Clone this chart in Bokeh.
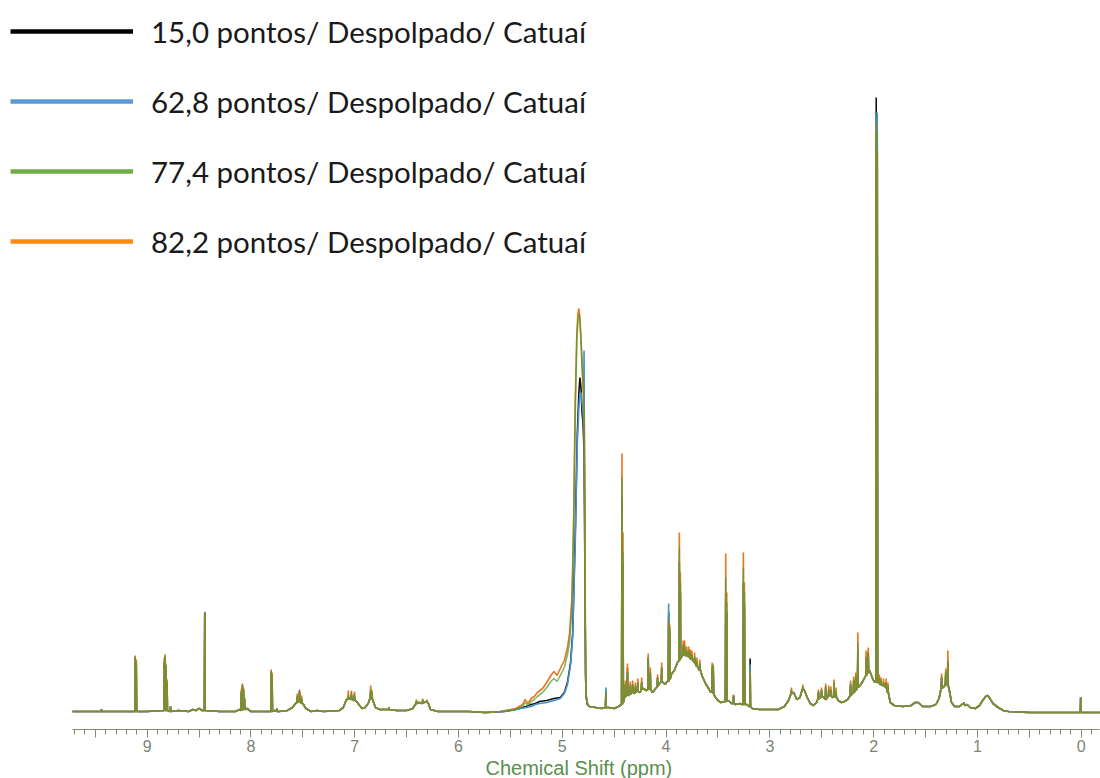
import numpy as np
from bokeh.plotting import figure
from bokeh.models import Range1d, Legend, LegendItem, FixedTicker, CustomJSTickFormatter, Title
from bokeh.embed import file_html
from bokeh.resources import INLINE

# ---------------- data ----------------
series_keys = ["black", "blue", "green", "orange"]
series_labels = [
    "15,0 pontos/ Despolpado/ Catuaí",
    "62,8 pontos/ Despolpado/ Catuaí",
    "77,4 pontos/ Despolpado/ Catuaí",
    "82,2 pontos/ Despolpado/ Catuaí",
]

# shared broad profile (chemical shift in ppm, relative intensity)
base_ppm = [9.72, 9.30, 9.20, 9.00, 8.70, 8.60, 8.56, 8.53, 8.50, 8.47, 8.30, 8.15, 8.11, 8.04, 8.00,
            7.90, 7.77, 7.73, 7.65, 7.60, 7.57, 7.54, 7.50, 7.47, 7.42, 7.36, 7.30, 7.15, 7.11, 7.08,
            7.05, 7.02, 6.99, 6.96, 6.93, 6.90, 6.87, 6.85, 6.83, 6.80, 6.76, 6.70, 6.60, 6.50, 6.44,
            6.41, 6.38, 6.35, 6.32, 6.29, 6.27, 6.20, 5.90, 5.75,
            4.74, 4.68, 4.62, 4.55, 4.50, 4.46, 4.43, 4.40, 4.38, 4.35, 4.33, 4.30, 4.28, 4.25, 4.22,
            4.19, 4.16, 4.13, 4.10, 4.07, 4.04, 4.01, 3.98, 3.95, 3.92, 3.89, 3.86, 3.83, 3.80, 3.77,
            3.74, 3.71, 3.68, 3.65, 3.62, 3.59, 3.57, 3.53, 3.50, 3.47, 3.44, 3.40, 3.37, 3.33, 3.29,
            3.27, 3.22, 3.20, 3.17, 3.10, 3.00, 2.92, 2.86, 2.82, 2.79, 2.77, 2.74, 2.71, 2.69, 2.67,
            2.64, 2.61, 2.58, 2.55, 2.52, 2.49, 2.46, 2.43, 2.40, 2.37, 2.34, 2.31, 2.28, 2.25, 2.22,
            2.19, 2.16, 2.13, 2.10, 2.07, 2.04, 2.01, 1.99, 1.955, 1.94, 1.91, 1.88, 1.86, 1.84, 1.80,
            1.72, 1.64, 1.60, 1.57, 1.53, 1.45, 1.40, 1.37, 1.35, 1.32, 1.30, 1.27, 1.25, 1.22, 1.17,
            1.14, 1.12, 1.10, 1.07, 1.02, 0.98, 0.95, 0.92, 0.90, 0.88, 0.85, 0.80, 0.75, 0.70, 0.50,
            0.20, -0.18]
base_level = [1, 1, 1, 1, 2, 1, 3, 2, 4, 2, 1, 1, 3, 4, 1,
              1, 2, 1, 2, 5, 9, 11, 9, 4, 1, 2, 1, 2, 5, 13,
              14, 13, 12, 8, 4, 5, 9, 15, 13, 5, 3, 3, 2, 2, 4,
              9, 10, 9, 11, 9, 3, 1, 1, 0,
              6, 5, 4, 5, 4, 6, 8, 15, 17, 18, 21, 19, 22, 20, 24,
              22, 25, 20, 24, 28, 31, 28, 32, 38, 42, 50, 55, 58, 57, 54,
              52, 47, 42, 36, 29, 24, 20, 16, 12, 10, 11, 12, 9, 8, 9,
              8, 8, 6, 4, 3, 3, 3, 6, 12, 19, 20, 13, 15, 22, 23,
              15, 9, 7, 10, 14, 16, 13, 18, 15, 16, 12, 10, 11, 13, 17,
              20, 24, 27, 32, 38, 42, 34, 30, 30, 28, 27, 25, 20, 10, 7,
              6, 7, 10, 10, 6, 6, 8, 14, 24, 26, 30, 22, 10, 6, 6,
              9, 7, 8, 5, 4, 7, 12, 16, 17, 14, 9, 5, 2, 1, 0,
              0, 0]

# water region (differs between samples)
water_ppm = {
    "orange": [5.60, 5.45, 5.38, 5.36, 5.33, 5.30, 5.27, 5.24, 5.19, 5.15, 5.11, 5.08, 5.05, 5.01, 4.98,
               4.95, 4.93, 4.91, 4.90, 4.89, 4.875, 4.86, 4.85, 4.84, 4.83, 4.82, 4.81, 4.80, 4.79,
               4.785, 4.78, 4.775, 4.77, 4.76],
    "green": [5.60, 5.45, 5.38, 5.36, 5.33, 5.30, 5.27, 5.24, 5.19, 5.15, 5.11, 5.08, 5.05, 5.01, 4.98,
              4.95, 4.93, 4.91, 4.90, 4.89, 4.875, 4.86, 4.85, 4.84, 4.83, 4.82, 4.81, 4.80, 4.79,
              4.785, 4.78, 4.775, 4.77, 4.76],
    "black": [5.72, 5.56, 5.45, 5.35, 5.30, 5.26, 5.22, 5.15, 5.08, 5.02, 4.98, 4.95, 4.92, 4.90,
              4.875, 4.855, 4.84, 4.83, 4.82, 4.81, 4.80, 4.79, 4.785, 4.78, 4.775, 4.77, 4.76],
    "blue": [5.72, 5.56, 5.45, 5.35, 5.30, 5.26, 5.22, 5.15, 5.08, 5.02, 4.98, 4.95, 4.92, 4.90,
             4.875, 4.855, 4.84, 4.83, 4.82, 4.81, 4.80, 4.795, 4.790, 4.786, 4.78, 4.775, 4.77, 4.76],
}
water_level = {
    "orange": [1, 4, 8, 13, 9, 14, 16, 20, 24, 30, 37, 41, 37, 46, 52,
               65, 79, 110, 145, 199, 312, 379, 398, 404, 395, 375, 345, 325, 300,
               240, 120, 40, 18, 10],
    "green": [1, 3, 6, 10, 7, 11, 13, 16, 20, 25, 31, 34, 31, 39, 45,
              58, 70, 100, 133, 185, 300, 370, 390, 398, 392, 372, 355, 335, 310,
              250, 130, 42, 18, 10],
    "black": [0, 1, 3, 6, 8, 9, 11, 12, 14, 15, 20, 30, 50, 79,
              179, 279, 320, 335, 325, 300, 290, 260, 190, 100, 35, 16, 8],
    "blue": [0, 1, 3, 5, 6, 8, 9, 10, 12, 14, 19, 28, 48, 75,
             170, 270, 305, 318, 320, 310, 300, 290, 362, 230, 100, 35, 16, 8],
}

# sharp resonances: position, level at the foot, top per sample
peak_ppm = [9.44, 9.115, 9.105, 8.835, 8.826, 8.817, 8.808, 8.775, 8.445, 8.092, 8.082, 8.072, 8.062,
            7.805, 7.796, 7.75, 7.553, 7.532, 7.512, 7.062, 7.032, 7.003, 6.846, 6.832, 6.67, 6.405,
            6.345, 6.305, 4.58, 4.425, 4.415, 4.392, 4.372, 4.345, 4.322, 4.295, 4.272, 4.235, 4.172,
            4.152, 4.082, 4.042, 3.975, 3.965, 3.872, 3.862, 3.835, 3.822, 3.802, 3.782, 3.765, 3.752,
            3.725, 3.702, 3.675, 3.555, 3.545, 3.425, 3.415, 3.35, 3.255, 3.245, 3.19, 2.792, 2.682,
            2.532, 2.502, 2.462, 2.432, 2.412, 2.382, 2.362, 2.222, 2.192, 2.172, 2.152, 2.072, 2.052,
            1.975, 1.965, 1.945, 1.93, 1.905, 1.88, 1.862, 1.345, 1.305, 1.285, 1.13, 0.005]
peak_foot = [1, 1, 1, 2, 2, 2, 2, 1, 2, 2, 3, 3, 3,
             1, 1, 1, 10, 11, 9, 13, 13, 12, 15, 13, 3, 9,
             9, 10, 5, 8, 10, 16, 17, 18, 20, 20, 21, 23, 23,
             23, 26, 31, 31, 33, 52, 54, 58, 57, 57, 56, 54, 53,
             50, 46, 43, 21, 19, 11, 11, 9, 8, 8, 6, 19, 23,
             14, 16, 13, 17, 17, 16, 15, 17, 20, 22, 25, 37, 40,
             31, 30, 29, 28, 27, 25, 20, 24, 28, 27, 8, 0]
peak_top = {
    "black": [3, 55, 50, 50, 56, 45, 30, 6, 100, 20, 27, 23, 14,
              40, 36, 4, 16, 21, 14, 16, 18, 17, 22, 18, 5, 11,
              12, 12, 20, 215, 150, 28, 45, 27, 28, 26, 30, 30, 55,
              40, 35, 45, 100, 80, 150, 120, 66, 65, 60, 62, 58, 58,
              55, 50, 48, 45, 42, 120, 100, 17, 130, 110, 54, 22, 25,
              20, 22, 25, 23, 22, 28, 21, 28, 32, 35, 60, 55, 60,
              615, 560, 34, 32, 30, 30, 26, 35, 40, 50, 10, 15],
    "blue": [3, 54, 50, 50, 55, 45, 30, 6, 98, 20, 26, 22, 13,
             39, 36, 4, 15, 20, 13, 16, 18, 17, 22, 18, 5, 11,
             12, 12, 25, 200, 140, 26, 40, 26, 26, 25, 28, 28, 50,
             38, 32, 40, 109, 85, 140, 120, 62, 60, 58, 58, 56, 55,
             52, 48, 46, 45, 40, 115, 95, 17, 125, 105, 48, 21, 24,
             20, 21, 25, 22, 21, 28, 20, 26, 30, 33, 65, 50, 55,
             595, 600, 32, 30, 29, 28, 25, 33, 38, 45, 10, 15],
    "green": [3, 56, 52, 52, 57, 46, 31, 6, 101, 22, 28, 24, 14,
              42, 38, 4, 17, 22, 15, 18, 20, 19, 24, 20, 5, 12,
              13, 12, 22, 235, 160, 28, 40, 28, 28, 27, 30, 31, 55,
              40, 35, 45, 95, 85, 165, 130, 68, 68, 62, 62, 60, 58,
              56, 52, 50, 48, 45, 135, 110, 17, 145, 120, 45, 23, 26,
              21, 23, 27, 24, 23, 30, 22, 29, 33, 36, 70, 55, 60,
              600, 580, 35, 33, 31, 30, 27, 36, 41, 52, 10, 15],
    "orange": [3, 57, 53, 55, 58, 48, 33, 6, 99, 24, 29, 25, 15,
               43, 40, 4, 19, 23, 17, 22, 22, 21, 27, 22, 5, 13,
               14, 13, 18, 259, 180, 32, 49, 31, 32, 30, 34, 35, 59,
               45, 38, 50, 90, 88, 180, 140, 72, 72, 66, 66, 63, 62,
               60, 55, 53, 50, 48, 159, 120, 18, 160, 130, 40, 25, 28,
               23, 25, 29, 27, 26, 33, 25, 32, 36, 40, 80, 62, 65,
               590, 560, 38, 35, 34, 34, 30, 39, 44, 62, 10, 15],
}

# ---------------- styling ----------------
line_colors = {"black": "#111111", "blue": "#4a90cf", "green": "#4f9a38", "orange": "#e8761c"}
line_alpha = {"black": 1.0, "blue": 1.0, "green": 0.72, "orange": 1.0}
legend_colors = {"black": "#000000", "blue": "#5b9bd5", "green": "#70ad47", "orange": "#fd8a14"}
HALF_WIDTH = 0.0035  # drawing half-width of a sharp line, ppm


def build_trace(key):
    pts = list(zip(base_ppm, base_level))
    pts += list(zip(water_ppm[key], water_level[key]))
    for p_, f, top in zip(peak_ppm, peak_foot, peak_top[key]):
        if top is None or top <= f:
            continue
        pts += [(p_ + HALF_WIDTH, f), (p_, top), (p_ - HALF_WIDTH, f)]
    pts.sort(key=lambda t: -t[0])
    return [a for a, _ in pts], [b for _, b in pts]


W, H = 1100, 778
p = figure(width=W, height=H, output_backend="svg", toolbar_location=None,
           x_range=Range1d(10.413, -0.186), y_range=Range1d(-17, 712),
           y_axis_location=None, min_border_left=0, min_border_right=0,
           min_border_top=0, min_border_bottom=49)
p.outline_line_color = None
p.grid.visible = False
p.background_fill_color = "white"
p.border_fill_color = "white"

for key in ["black", "blue", "orange", "green"]:
    xs, ys = build_trace(key)
    p.line(xs, ys, line_color=line_colors[key], line_alpha=line_alpha[key], line_width=1.6)

# legend entries (thick sample lines; renderers hold no visible data)
items = []
for key, lab in zip(series_keys, series_labels):
    r = p.line([np.nan], [np.nan], line_color=legend_colors[key], line_width=4.5)
    items.append(LegendItem(label=lab, renderers=[r]))
legend = Legend(items=items, location="top_left", orientation="vertical",
                glyph_width=123, glyph_height=42, label_height=42, spacing=28,
                padding=0, margin=10, label_standoff=18,
                border_line_color=None, background_fill_alpha=0,
                label_text_font="Lato", label_text_font_size="29.5px",
                label_text_color="#1a1a1a")
p.add_layout(legend)

ax = p.xaxis[0]
ax.bounds = (-0.18, 9.72)
ax.ticker = FixedTicker(ticks=list(np.arange(0, 10, 0.5)),
                        minor_ticks=list(np.round(np.arange(-0.1, 9.75, 0.1), 2)))
ax.formatter = CustomJSTickFormatter(code="return Number.isInteger(tick) ? tick.toFixed(0) : ''")
ax.axis_line_color = "#7f8c72"
ax.major_tick_line_color = "#7f8c72"
ax.minor_tick_line_color = "#7f8c72"
ax.major_tick_in = 0
ax.major_tick_out = 8
ax.minor_tick_in = 0
ax.minor_tick_out = 5
ax.major_label_standoff = 2
ax.major_label_text_font = "Liberation Sans"
ax.major_label_text_font_size = "16px"
ax.major_label_text_color = "#7b8474"

# axis title, placed under the middle of the bounded axis (frame spans the full width)
p.add_layout(Title(text="Chemical Shift (ppm)", align="left", offset=485, standoff=0,
                   text_font="Liberation Sans", text_font_style="normal",
                   text_font_size="20px", text_color="#5a8f4e"), "below")

open("out.html", "w").write(file_html(p, INLINE))
